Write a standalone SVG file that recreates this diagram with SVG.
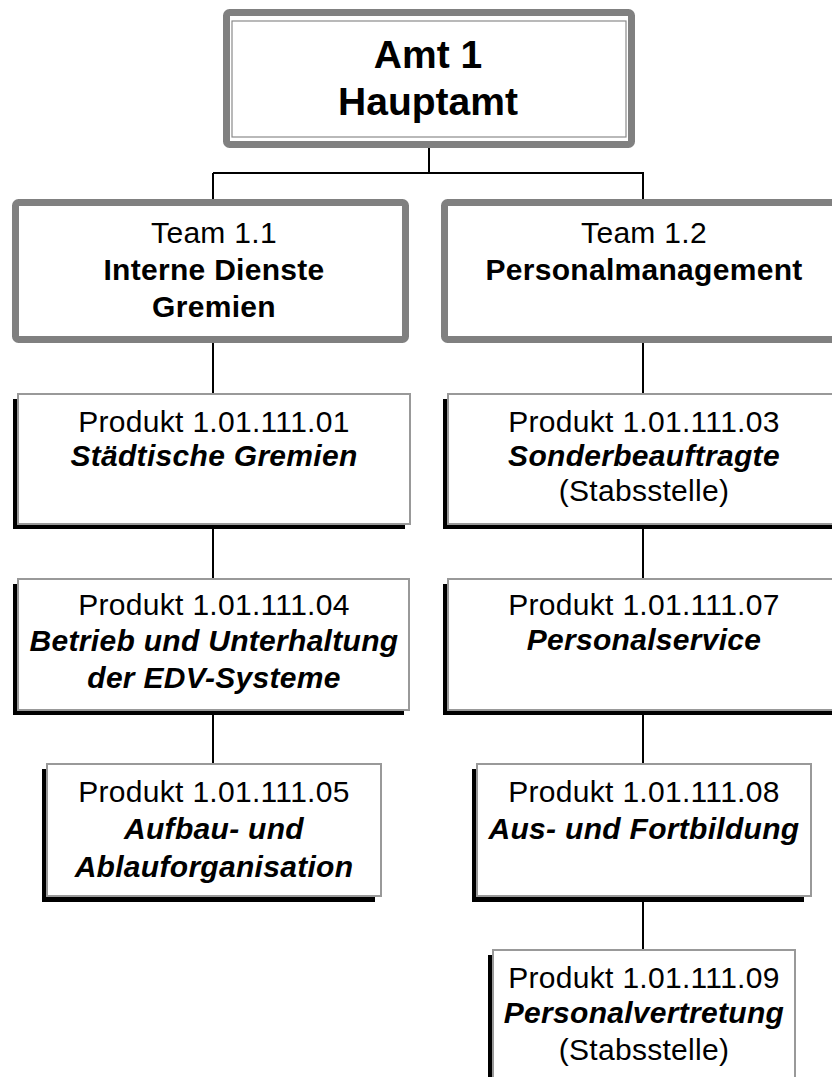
<svg xmlns="http://www.w3.org/2000/svg" width="832" height="1077" viewBox="0 0 832 1077">
<style>
.t{font-family:"Liberation Sans",Arial,sans-serif;font-size:30px;fill:#000;text-anchor:middle;letter-spacing:0.3px}
.b{font-weight:bold}
.bi{font-weight:bold;font-style:italic}
.head{font-family:"Liberation Sans",Arial,sans-serif;font-size:39px;font-weight:bold;fill:#000;text-anchor:middle}
.frame{fill:#fff;stroke:#808080;stroke-width:7}
.inner{fill:none;stroke:#8a8a8a;stroke-width:1.2}
.box{fill:#fff;stroke:#999;stroke-width:2}
.shadow{fill:#000}
.con{stroke:#000;stroke-width:2;fill:none}
</style>
<rect width="832" height="1077" fill="#fff"/>
<g id="connectors">
<line class="con" x1="429" y1="148" x2="429" y2="173"/>
<line class="con" x1="213" y1="173" x2="644" y2="173"/>
<line class="con" x1="213" y1="173" x2="213" y2="200"/>
<line class="con" x1="643" y1="173" x2="643" y2="200"/>
<line class="con" x1="213" y1="342" x2="213" y2="395"/>
<line class="con" x1="643" y1="342" x2="643" y2="395"/>
<line class="con" x1="213" y1="524" x2="213" y2="580"/>
<line class="con" x1="643" y1="524" x2="643" y2="580"/>
<line class="con" x1="213" y1="710" x2="213" y2="765"/>
<line class="con" x1="643" y1="710" x2="643" y2="765"/>
<line class="con" x1="643" y1="896" x2="643" y2="951"/>
</g>
<g id="amt1">
<rect class="frame" x="226.5" y="12.5" width="405" height="132" rx="3"/>
<rect class="inner" x="232" y="21" width="394" height="116"/>
<text class="head" x="428" y="68">Amt 1</text>
<text class="head" x="428" y="115">Hauptamt</text>
</g>
<g id="team11">
<rect class="frame" x="15.5" y="202.5" width="390" height="137" rx="3"/>
<text class="t" x="214" y="243">Team 1.1</text>
<text class="t b" x="214" y="280">Interne Dienste</text>
<text class="t b" x="214" y="317">Gremien</text>
</g>
<g id="team12">
<rect class="frame" x="444.5" y="202.5" width="400" height="137" rx="3"/>
<text class="t" x="644" y="243">Team 1.2</text>
<text class="t b" x="644" y="280">Personalmanagement</text>
</g>
<g id="p01">
<rect class="shadow" x="13" y="399" width="392" height="130"/>
<rect class="box" x="18" y="394" width="392" height="130"/>
<text class="t" x="214" y="432">Produkt 1.01.111.01</text>
<text class="t bi" x="214" y="466">Städtische Gremien</text>
</g>
<g id="p03">
<rect class="shadow" x="443" y="399" width="400" height="130"/>
<rect class="box" x="448" y="394" width="400" height="130"/>
<text class="t" x="644" y="432">Produkt 1.01.111.03</text>
<text class="t bi" x="644" y="466">Sonderbeauftragte</text>
<text class="t" x="644" y="501">(Stabsstelle)</text>
</g>
<g id="p04">
<rect class="shadow" x="13" y="584" width="391" height="131"/>
<rect class="box" x="18" y="579" width="391" height="131"/>
<text class="t" x="214" y="615">Produkt 1.01.111.04</text>
<text class="t bi" x="214" y="651">Betrieb und Unterhaltung</text>
<text class="t bi" x="214" y="688">der EDV-Systeme</text>
</g>
<g id="p07">
<rect class="shadow" x="443" y="584" width="400" height="131"/>
<rect class="box" x="448" y="579" width="400" height="131"/>
<text class="t" x="644" y="615">Produkt 1.01.111.07</text>
<text class="t bi" x="644" y="650">Personalservice</text>
</g>
<g id="p05">
<rect class="shadow" x="42" y="769" width="333" height="133"/>
<rect class="box" x="47" y="764" width="334" height="132"/>
<text class="t" x="214" y="802">Produkt 1.01.111.05</text>
<text class="t bi" x="214" y="839">Aufbau- und</text>
<text class="t bi" x="214" y="877">Ablauforganisation</text>
</g>
<g id="p08">
<rect class="shadow" x="472" y="769" width="332" height="133"/>
<rect class="box" x="477" y="764" width="334" height="132"/>
<text class="t" x="644" y="802">Produkt 1.01.111.08</text>
<text class="t bi" x="644" y="839">Aus- und Fortbildung</text>
</g>
<g id="p09">
<rect class="shadow" x="488" y="955" width="302" height="140"/>
<rect class="box" x="493" y="950" width="302" height="140"/>
<text class="t" x="644" y="988">Produkt 1.01.111.09</text>
<text class="t bi" x="644" y="1023">Personalvertretung</text>
<text class="t" x="644" y="1060">(Stabsstelle)</text>
</g>
</svg>
